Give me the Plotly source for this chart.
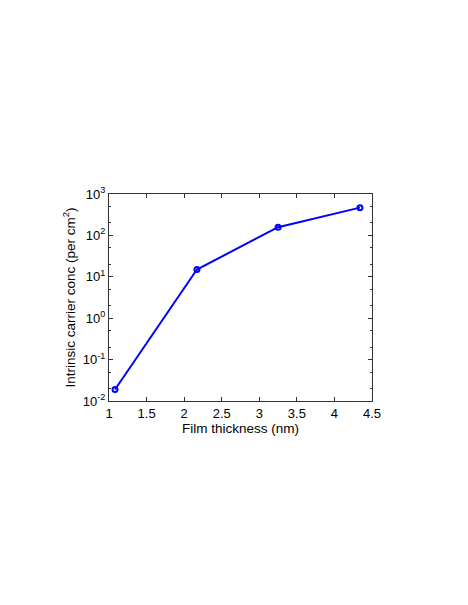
import plotly.graph_objects as go

COR_LINHA = "#0000FF"
COR_EIXO = "#333333"
FONTE = "Liberation Sans, Arial, sans-serif"

espessura = [1.08, 2.17, 3.25, 4.34]
concentracao = [0.019, 15, 158, 468]

x_ticks = [1, 1.5, 2, 2.5, 3, 3.5, 4, 4.5]
x_labels = ["1", "1.5", "2", "2.5", "3", "3.5", "4", "4.5"]
y_ticks = [1e-2, 1e-1, 1e0, 1e1, 1e2, 1e3]
y_labels = ["10<sup>-2</sup>", "10<sup>-1</sup>", "10<sup>0</sup>",
            "10<sup>1</sup>", "10<sup>2</sup>", "10<sup>3</sup>"]

fig = go.Figure()

fig.add_trace(
    go.Scatter(
        x=espessura,
        y=concentracao,
        mode="lines+markers",
        line=dict(width=2, color=COR_LINHA),
        marker=dict(symbol="circle-open", size=5, color=COR_LINHA,
                    line=dict(width=2, color=COR_LINHA)),
        showlegend=False
    )
)

eixo_comum = dict(
    showline=True,
    linecolor=COR_EIXO,
    linewidth=1,
    mirror="ticks",
    ticks="inside",
    ticklen=4,
    tickcolor=COR_EIXO,
    showgrid=False,
    zeroline=False,
    tickfont=dict(size=13, color="black", family=FONTE),
)

# a página tem ~8px de margem no body, por isso as margens estão deslocadas
fig.update_layout(
    width=468,
    height=605,
    paper_bgcolor="white",
    plot_bgcolor="white",
    margin=dict(l=101, r=104, t=186, b=212),
    font=dict(family=FONTE, size=13, color="black"),
)

fig.update_xaxes(
    **eixo_comum,
    range=[1, 4.5],
    tickvals=x_ticks,
    ticktext=x_labels,
    title=dict(text="Film thickness (nm)", standoff=1,
               font=dict(size=13.5, family=FONTE)),
)

fig.update_yaxes(
    **eixo_comum,
    type="log",
    range=[-2, 3],
    tickvals=y_ticks,
    ticktext=y_labels,
    minor=dict(ticks="inside", ticklen=2, tickcolor=COR_EIXO, showgrid=False),
    title=dict(text="Intrinsic carrier conc (per cm<sup>2</sup>)", standoff=4,
               font=dict(size=13.5, family=FONTE)),
)

fig.write_html("out.html")
